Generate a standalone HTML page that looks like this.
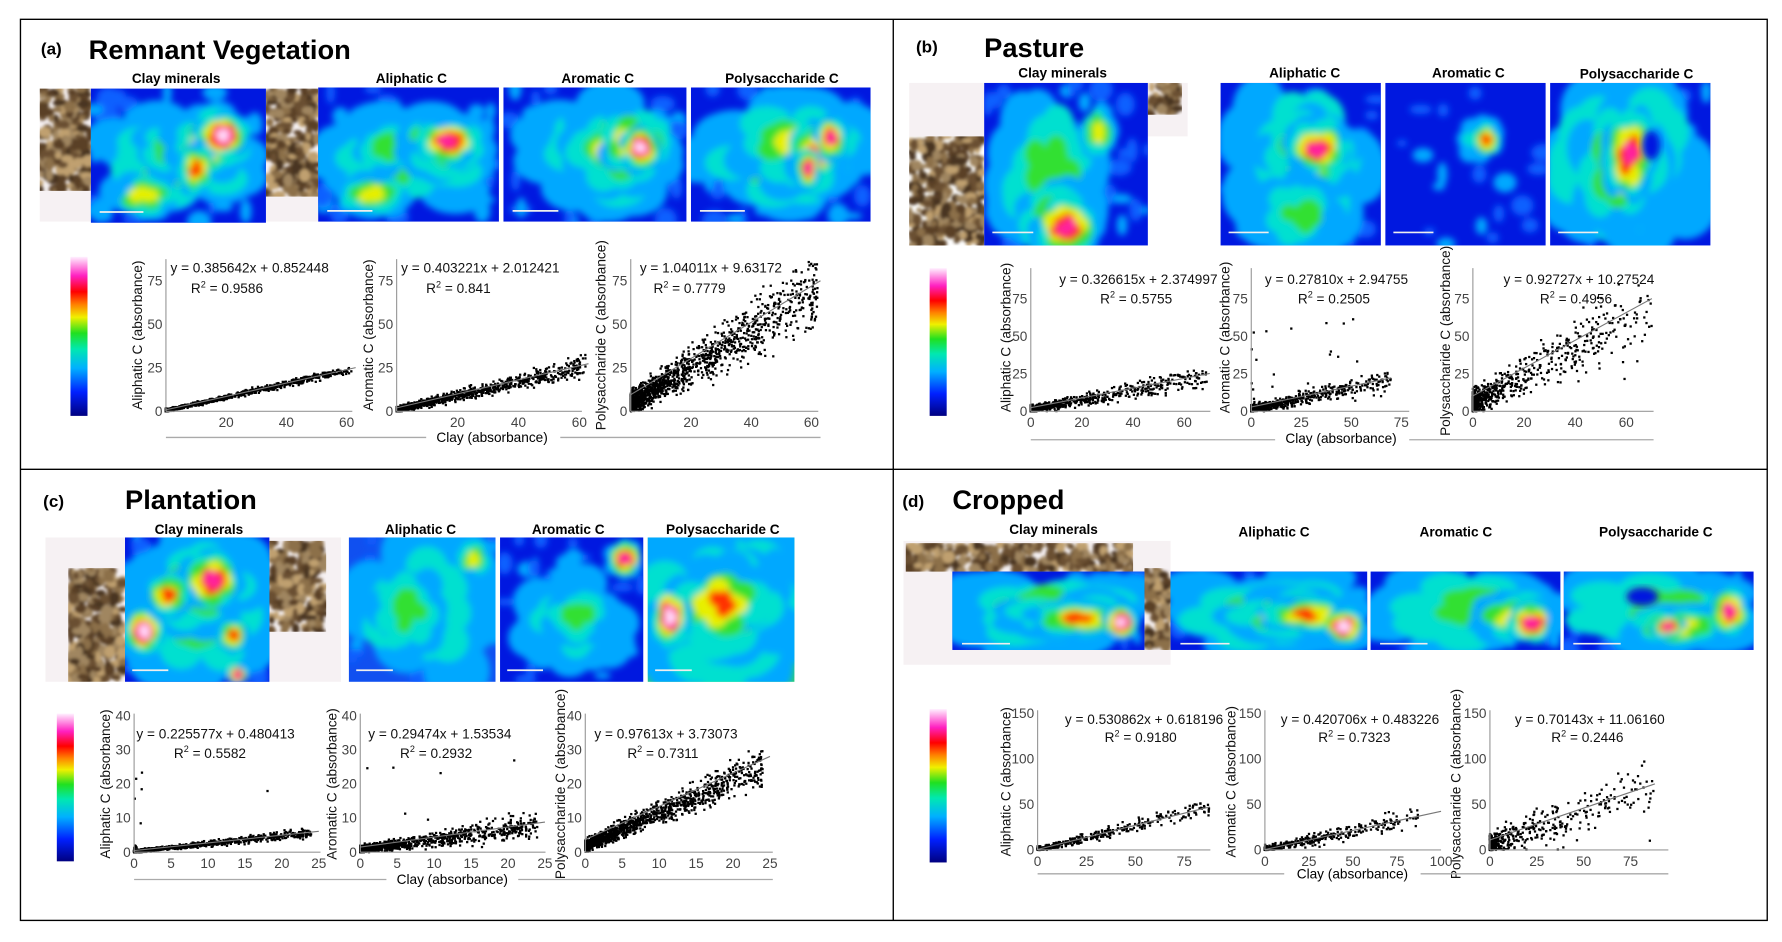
<!DOCTYPE html>
<html><head><meta charset="utf-8"><style>
html,body{margin:0;padding:0;background:#fff;}
svg{display:block;font-family:"Liberation Sans",sans-serif;}
.lbl{font-weight:bold;font-size:12px;text-anchor:middle;}
.ttl{font-weight:bold;font-size:24px;}
.tag{font-weight:bold;font-size:15px;}
.tk{font-size:12px;fill:#444;}
.eq{font-size:12px;fill:#111;}
.yl{font-size:12px;fill:#111;text-anchor:middle;}
</style></head><body>
<svg id="s" width="1782" height="942" viewBox="0 0 1568 829" preserveAspectRatio="none">
<defs>
<filter id="bl" x="-20%" y="-20%" width="140%" height="140%"><feGaussianBlur stdDeviation="3"/></filter>
<filter id="bp" x="-20%" y="-20%" width="140%" height="140%"><feGaussianBlur stdDeviation="1.5"/></filter>
<linearGradient id="cb" x1="0" y1="1" x2="0" y2="0">
<stop offset="0" stop-color="#000080"/><stop offset="0.15" stop-color="#0020ff"/><stop offset="0.3" stop-color="#00b0ff"/><stop offset="0.42" stop-color="#00e8b0"/><stop offset="0.52" stop-color="#20e020"/><stop offset="0.62" stop-color="#f0f000"/><stop offset="0.7" stop-color="#ff8000"/><stop offset="0.78" stop-color="#ff0000"/><stop offset="0.88" stop-color="#ff20c0"/><stop offset="1" stop-color="#fff0ff"/>
</linearGradient>
</defs>
<g id="bg"></g>
<g id="g"></g>
<rect x="18" y="17" width="1537" height="793" fill="none" stroke="#000" stroke-width="1.2"/>
<line x1="786" y1="17" x2="786" y2="810" stroke="#000" stroke-width="1.2"/>
<line x1="18" y1="413" x2="1555" y2="413" stroke="#000" stroke-width="1.2"/>

<text class="tag" x="36" y="48">(a)</text><text class="ttl" x="78" y="52">Remnant Vegetation</text>
<text class="lbl" x="155" y="73">Clay minerals</text><text class="lbl" x="362" y="73">Aliphatic C</text><text class="lbl" x="526" y="73">Aromatic C</text><text class="lbl" x="688" y="73">Polysaccharide C</text>
<text class="tag" x="806" y="46">(b)</text><text class="ttl" x="866" y="50">Pasture</text>
<text class="lbl" x="935" y="68">Clay minerals</text><text class="lbl" x="1148" y="68">Aliphatic C</text><text class="lbl" x="1292" y="68">Aromatic C</text><text class="lbl" x="1440" y="69">Polysaccharide C</text>
<text class="tag" x="38" y="446">(c)</text><text class="ttl" x="110" y="448">Plantation</text>
<text class="lbl" x="175" y="470">Clay minerals</text><text class="lbl" x="370" y="470">Aliphatic C</text><text class="lbl" x="500" y="470">Aromatic C</text><text class="lbl" x="636" y="470">Polysaccharide C</text>
<text class="tag" x="794" y="446">(d)</text><text class="ttl" x="838" y="448">Cropped</text>
<text class="lbl" x="927" y="470">Clay minerals</text><text class="lbl" x="1121" y="472">Aliphatic C</text><text class="lbl" x="1281" y="472">Aromatic C</text><text class="lbl" x="1457" y="472">Polysaccharide C</text>

<g class="eq">
<text x="150" y="240">y = 0.385642x + 0.852448</text><text x="168" y="258">R<tspan dy="-5" font-size="8">2</tspan><tspan dy="5"> = 0.9586</tspan></text>
<text x="353" y="240">y = 0.403221x + 2.012421</text><text x="375" y="258">R<tspan dy="-5" font-size="8">2</tspan><tspan dy="5"> = 0.841</tspan></text>
<text x="563" y="240">y = 1.04011x + 9.63172</text><text x="575" y="258">R<tspan dy="-5" font-size="8">2</tspan><tspan dy="5"> = 0.7779</tspan></text>
<text x="932" y="250">y = 0.326615x + 2.374997</text><text x="968" y="267">R<tspan dy="-5" font-size="8">2</tspan><tspan dy="5"> = 0.5755</tspan></text>
<text x="1113" y="250">y = 0.27810x + 2.94755</text><text x="1142" y="267">R<tspan dy="-5" font-size="8">2</tspan><tspan dy="5"> = 0.2505</tspan></text>
<text x="1323" y="250">y = 0.92727x + 10.27524</text><text x="1355" y="267">R<tspan dy="-5" font-size="8">2</tspan><tspan dy="5"> = 0.4956</tspan></text>
<text x="120" y="650">y = 0.225577x + 0.480413</text><text x="153" y="667">R<tspan dy="-5" font-size="8">2</tspan><tspan dy="5"> = 0.5582</tspan></text>
<text x="324" y="650">y = 0.29474x + 1.53534</text><text x="352" y="667">R<tspan dy="-5" font-size="8">2</tspan><tspan dy="5"> = 0.2932</tspan></text>
<text x="523" y="650">y = 0.97613x + 3.73073</text><text x="552" y="667">R<tspan dy="-5" font-size="8">2</tspan><tspan dy="5"> = 0.7311</tspan></text>
<text x="937" y="637">y = 0.530862x + 0.618196</text><text x="972" y="653">R<tspan dy="-5" font-size="8">2</tspan><tspan dy="5"> = 0.9180</tspan></text>
<text x="1127" y="637">y = 0.420706x + 0.483226</text><text x="1160" y="653">R<tspan dy="-5" font-size="8">2</tspan><tspan dy="5"> = 0.7323</tspan></text>
<text x="1333" y="637">y = 0.70143x + 11.06160</text><text x="1365" y="653">R<tspan dy="-5" font-size="8">2</tspan><tspan dy="5"> = 0.2446</tspan></text>
</g>
<g class="yl">
<text transform="translate(125,295) rotate(-90)">Aliphatic C (absorbance)</text>
<text transform="translate(328,295) rotate(-90)">Aromatic C (absorbance)</text>
<text transform="translate(533,295) rotate(-90)">Polysaccharide C (absorbance)</text>
<text transform="translate(889,297) rotate(-90)">Aliphatic C (absorbance)</text>
<text transform="translate(1082,297) rotate(-90)">Aromatic C (absorbance)</text>
<text transform="translate(1276,300) rotate(-90)">Polysaccharide C (absorbance)</text>
<text transform="translate(97,690) rotate(-90)">Aliphatic C (absorbance)</text>
<text transform="translate(296,690) rotate(-90)">Aromatic C (absorbance)</text>
<text transform="translate(497,690) rotate(-90)">Polysaccharide C (absorbance)</text>
<text transform="translate(889,688) rotate(-90)">Aliphatic C (absorbance)</text>
<text transform="translate(1087,688) rotate(-90)">Aromatic C (absorbance)</text>
<text transform="translate(1285,690) rotate(-90)">Polysaccharide C (absorbance)</text>
</g>
<g font-size="12" text-anchor="middle">
<text x="433" y="389">Clay (absorbance)</text>
<text x="1180" y="390">Clay (absorbance)</text>
<text x="398" y="778">Clay (absorbance)</text>
<text x="1190" y="773">Clay (absorbance)</text>
</g>
<g stroke="#aaa" stroke-width="1.2">
<line x1="146" y1="385" x2="375" y2="385"/><line x1="493" y1="385" x2="722" y2="385"/>
<line x1="907" y1="387" x2="1122" y2="387"/><line x1="1240" y1="387" x2="1455" y2="387"/>
<line x1="118" y1="774" x2="340" y2="774"/><line x1="456" y1="774" x2="680" y2="774"/>
<line x1="913" y1="769" x2="1130" y2="769"/><line x1="1250" y1="769" x2="1468" y2="769"/>
</g>
<g id="ticks" class="tk"></g>
</svg>
<script>
var NS="http://www.w3.org/2000/svg",bg=document.getElementById('bg'),G=document.getElementById('g'),T=document.getElementById('ticks');
function el(p,t,a){var e=document.createElementNS(NS,t);for(var k in a)e.setAttribute(k,a[k]);p.appendChild(e);return e;}
var seed=7;function rnd(){seed=(seed*16807)%2147483647;return seed/2147483647;}
function gs(){return (rnd()+rnd()+rnd()+rnd()-2)*1.2;}
var cid=0;
// photos: white/pale rect, then brown texture clipped to region
function photo(wx,wy,ww,wh,bx,by,bw,bh){
 if(ww>0)el(bg,'rect',{x:wx,y:wy,width:ww,height:wh,fill:'#f6f1f3'});
 var id='p'+(cid++);var cp=el(bg,'clipPath',{id:id});el(cp,'rect',{x:bx,y:by,width:bw,height:bh});
 var g=el(bg,'g',{'clip-path':'url(#'+id+')'});var f=el(g,'g',{filter:'url(#bp)'});
 var cols=['#6b5030','#8c7048','#4a3520','#a08660','#c0a070','#5a4028'];
 for(var i=0;i<Math.floor(bw*bh/18);i++){var px=bx+rnd()*bw,py=by+rnd()*bh;
  el(f,'ellipse',{cx:px,cy:py,rx:2+rnd()*4,ry:2+rnd()*4,fill:cols[Math.floor(rnd()*6)]});}
}
photo(35,78,245,117, 35,78,45,90);photo(0,0,0,0,234,78,46,95);
photo(800,73,245,47, 800,120,66,96);photo(1010,73,35,20,1010,73,30,28);
photo(40,473,260,127, 60,500,50,100);photo(0,0,0,0,237,476,50,80);
photo(795,476,235,109, 797,478,200,25);photo(0,0,0,0,1007,500,23,72);
var C=['#1060ff','#00a8ff','#00e0d0','#30e030','#e8f000','#ff3000','#ff20a0','#ffe0ff'];
function heat(x,y,w,h,blobs,base,noise){
 el(G,'rect',{x:x,y:y,width:w,height:h,fill:base||'#0018e0'});
 var id='h'+(cid++);var cp=el(G,'clipPath',{id:id});el(cp,'rect',{x:x,y:y,width:w,height:h});
 var g=el(G,'g',{'clip-path':'url(#'+id+')'});var f=el(g,'g',{filter:'url(#bl)'});
 var nn=noise==null?40:noise;
 for(var i=0;i<nn;i++)el(f,'ellipse',{cx:x+rnd()*w,cy:y+rnd()*h,rx:3+rnd()*8,ry:3+rnd()*8,fill:C[rnd()<0.6?0:1]});
 blobs.forEach(function(b){var lv=b[4];
  for(var L=1;L<=lv;L++){var s=1-(L-1)/(lv+0.5);var n=Math.round(18*s+4);
   for(var i=0;i<n;i++){var a=rnd()*6.283,r=Math.sqrt(rnd())*s*0.85;
    var cx=x+(b[0]+Math.cos(a)*r*b[2])*w,cy=y+(b[1]+Math.sin(a)*r*b[3])*h;
    el(f,'ellipse',{cx:cx,cy:cy,rx:(b[2]*w*s*0.35)+2,ry:(b[3]*h*s*0.35)+2,fill:C[L]});}}});
 el(G,'line',{x1:x+w*0.05,y1:y+h*0.92,x2:x+w*0.3,y2:y+h*0.92,stroke:'#eee','stroke-width':1.5});
}
// a
heat(80,78,154,118,[[0.5,0.55,0.5,0.4,3],[0.3,0.8,0.2,0.15,4],[0.45,0.45,0.2,0.2,3],[0.68,0.4,0.25,0.25,5],[0.75,0.35,0.15,0.15,7],[0.6,0.6,0.1,0.18,5]]);
heat(280,77,159,118,[[0.5,0.55,0.5,0.4,3],[0.3,0.8,0.2,0.15,4],[0.4,0.45,0.2,0.2,3],[0.68,0.42,0.25,0.25,5],[0.72,0.4,0.17,0.17,6]]);
heat(443,77,161,118,[[0.55,0.5,0.5,0.45,3],[0.6,0.45,0.3,0.35,4],[0.72,0.4,0.2,0.25,5],[0.75,0.45,0.1,0.15,7]]);
heat(608,77,158,118,[[0.5,0.5,0.55,0.45,3],[0.6,0.45,0.35,0.35,4],[0.7,0.5,0.15,0.3,5],[0.78,0.38,0.08,0.15,6],[0.65,0.6,0.06,0.15,6]]);
// b
heat(866,73,144,143,[[0.4,0.55,0.35,0.5,3],[0.45,0.85,0.25,0.25,4],[0.5,0.88,0.2,0.18,6],[0.7,0.3,0.1,0.15,4]]);
heat(1074,73,141,143,[[0.5,0.5,0.45,0.55,3],[0.55,0.45,0.3,0.3,4],[0.6,0.4,0.18,0.17,6],[0.5,0.8,0.25,0.25,3]]);
heat(1219,73,141,143,[[0.6,0.35,0.15,0.13,2],[0.63,0.35,0.08,0.1,5]],'#0018e0',20);
heat(1364,73,141,143,[[0.45,0.5,0.55,0.6,3],[0.45,0.5,0.3,0.45,4],[0.5,0.45,0.15,0.3,6]]);
el(G,'ellipse',{cx:1453,cy:128,rx:8,ry:13,fill:'#0018e0',filter:'url(#bl)'});
// c
heat(110,473,127,127,[[0.5,0.5,0.55,0.55,3],[0.5,0.35,0.4,0.3,5],[0.6,0.3,0.2,0.2,6],[0.13,0.65,0.12,0.15,7],[0.3,0.4,0.15,0.15,5],[0.75,0.68,0.1,0.1,5],[0.78,0.95,0.06,0.06,6]]);
heat(307,473,129,127,[[0.5,0.5,0.6,0.6,2],[0.4,0.5,0.25,0.3,3],[0.85,0.15,0.12,0.12,4]],'#1050f0',60);
heat(440,473,126,127,[[0.5,0.6,0.4,0.35,2],[0.55,0.55,0.25,0.2,3],[0.87,0.15,0.12,0.12,6]]);
heat(570,473,129,127,[[0.5,0.5,0.7,0.7,3],[0.5,0.45,0.5,0.45,4],[0.5,0.45,0.35,0.3,5],[0.15,0.55,0.12,0.2,7],[0.9,0.2,0.1,0.1,1]],'#30d060',0);
// d
heat(838,503,169,69,[[0.5,0.5,0.55,0.6,3],[0.6,0.55,0.35,0.3,4],[0.65,0.6,0.25,0.2,5],[0.88,0.65,0.08,0.2,7]]);
heat(1030,503,173,69,[[0.5,0.5,0.55,0.6,3],[0.6,0.55,0.35,0.35,4],[0.7,0.55,0.25,0.2,5],[0.88,0.7,0.1,0.2,7]]);
heat(1206,503,167,69,[[0.5,0.5,0.55,0.6,3],[0.75,0.6,0.25,0.3,4],[0.85,0.65,0.13,0.25,6]]);
heat(1376,503,167,69,[[0.5,0.5,0.6,0.6,3],[0.6,0.7,0.3,0.25,4],[0.87,0.5,0.1,0.3,6],[0.55,0.7,0.08,0.12,6]]);
el(G,'ellipse',{cx:1445,cy:525,rx:14,ry:8,fill:'#0018e0',filter:'url(#bl)'});
// colorbars
[[62,226,140],[818,236,130],[50,628,130],[818,624,135]].forEach(function(c){el(G,'rect',{x:c[0],y:c[1],width:15,height:c[2],fill:'url(#cb)'});});
// plots
function plot(o){
 var ox=o.ox,oy=o.oy;
 el(T,'line',{x1:ox,y1:oy,x2:ox,y2:o.top,stroke:'#999','stroke-width':1});
 el(T,'line',{x1:ox,y1:oy,x2:o.xr,y2:oy,stroke:'#999','stroke-width':1});
 o.xt.forEach(function(v){var t=el(T,'text',{x:ox+v*o.sx,y:oy+14,'text-anchor':'middle'});t.textContent=v;});
 o.yt.forEach(function(v){var t=el(T,'text',{x:ox-3,y:oy-v*o.sy+4,'text-anchor':'end'});t.textContent=v;});
 var g=el(G,'g',{fill:'#000'});
 for(var i=0;i<o.n;i++){var x=o.mx*Math.pow(rnd(),o.p||2);var y=o.a*x+o.b*0.5+gs()*o.nz*(0.4+x/o.mx);
  if(rnd()<(o.out||0))y+=rnd()*o.ymax*0.6;
  if(y<0)y=rnd()*2;if(y>o.ymax)continue;
  el(g,'rect',{x:ox+x*o.sx-1,y:oy-y*o.sy-1,width:2,height:2});}
 el(G,'line',{x1:ox,y1:oy-o.b*o.sy,x2:ox+o.lx*o.sx,y2:oy-(o.a*o.lx+o.b)*o.sy,stroke:'#777','stroke-width':1});
}
var A={oy:362,top:228,sy:1.53,yt:[0,25,50,75],xt:[20,40,60],mx:62,lx:63,ymax:90,sx:2.65,p:2.4};
plot(Object.assign({},A,{ox:146,xr:310,a:.3856,b:.85,nz:1.3,n:1100}));
plot(Object.assign({},A,{ox:349,xr:512,sx:2.68,a:.403,b:2,nz:2.8,n:1100}));
plot(Object.assign({},A,{ox:555,xr:720,a:1.04,b:9.6,nz:11,n:1400,p:2.2}));
var B={oy:362,top:236,sy:1.32,yt:[0,25,50,75],mx:70,lx:70,ymax:85,p:3.2};
plot(Object.assign({},B,{ox:907,xr:1065,sx:2.25,xt:[0,20,40,60],a:.3266,b:2.4,nz:4,n:800}));
plot(Object.assign({},B,{ox:1101,xr:1240,sx:1.76,xt:[0,25,50,75],a:.278,b:2.9,nz:4,n:800,out:.02}));
plot(Object.assign({},B,{ox:1296,xr:1455,sx:2.25,xt:[0,20,40,60],a:.927,b:10.3,nz:14,n:800}));
var Cc={oy:750,top:628,sy:3,yt:[0,10,20,30,40],xt:[0,5,10,15,20,25],sx:6.5,mx:24,lx:25,ymax:40,p:2.4};
plot(Object.assign({},Cc,{ox:118,xr:282,a:.2256,b:.48,nz:.7,n:1000,out:.005}));
plot(Object.assign({},Cc,{ox:317,xr:480,a:.2947,b:1.5,nz:2,n:1000,out:.01}));
plot(Object.assign({},Cc,{ox:515,xr:680,a:.976,b:3.7,nz:3,n:1300,p:2}));
var D={oy:748,top:625,sy:.8,yt:[0,50,100,150],mx:88,lx:88,ymax:150,p:3,n:450};
plot(Object.assign({},D,{ox:913,xr:1065,sx:1.72,xt:[0,25,50,75],a:.531,b:.6,nz:5}));
plot(Object.assign({},D,{ox:1113,xr:1268,sx:1.55,xt:[0,25,50,75,100],a:.42,b:.5,nz:6,lx:100}));
plot(Object.assign({},D,{ox:1311,xr:1468,sx:1.65,xt:[0,25,50,75],a:.701,b:11,nz:20}));
</script>
</body></html>
